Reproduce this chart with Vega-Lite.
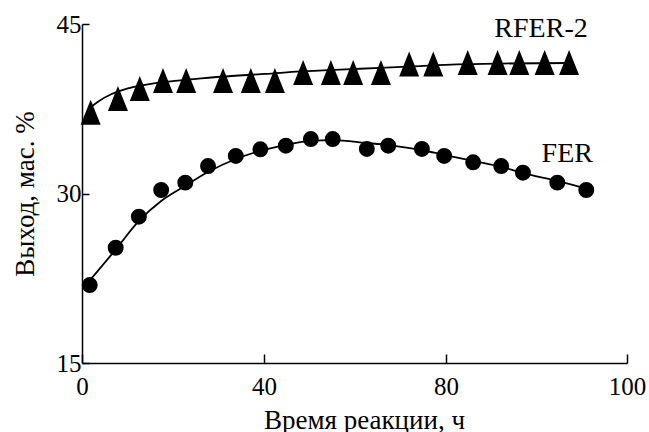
{
  "$schema": "https://vega.github.io/schema/vega-lite/v6.json",
  "width": 545,
  "height": 339,
  "autosize": {"type": "none"},
  "padding": {"left": 82, "top": 24, "right": 22, "bottom": 69},
  "background": "white",
  "config": {
    "view": {"stroke": null},
    "font": "Liberation Serif",
    "axis": {
      "grid": false,
      "domainColor": "black",
      "domainWidth": 1.5,
      "tickColor": "black",
      "tickWidth": 1.5,
      "labelFont": "Liberation Serif",
      "labelFontSize": 25,
      "labelColor": "black",
      "titleFont": "Liberation Serif",
      "titleFontSize": 27,
      "titleFontWeight": "normal",
      "titleColor": "black"
    }
  },
  "datasets": {
    "points": [
      {"series": "RFER-2", "t": 1.9, "y": 37.2},
      {"series": "RFER-2", "t": 7.9, "y": 38.4},
      {"series": "RFER-2", "t": 12.7, "y": 39.3},
      {"series": "RFER-2", "t": 17.8, "y": 40.0},
      {"series": "RFER-2", "t": 22.9, "y": 40.0},
      {"series": "RFER-2", "t": 31.0, "y": 40.0},
      {"series": "RFER-2", "t": 37.1, "y": 40.0},
      {"series": "RFER-2", "t": 42.4, "y": 40.0},
      {"series": "RFER-2", "t": 48.6, "y": 40.7},
      {"series": "RFER-2", "t": 54.7, "y": 40.7},
      {"series": "RFER-2", "t": 59.6, "y": 40.7},
      {"series": "RFER-2", "t": 65.7, "y": 40.7},
      {"series": "RFER-2", "t": 71.9, "y": 41.45},
      {"series": "RFER-2", "t": 77.2, "y": 41.45},
      {"series": "RFER-2", "t": 82.4, "y": 41.6},
      {"series": "RFER-2", "t": 85.7, "y": 41.6},
      {"series": "RFER-2", "t": 88.1, "y": 41.6},
      {"series": "RFER-2", "t": 90.9, "y": 41.6},
      {"series": "RFER-2", "t": 93.6, "y": 41.6},
      {"series": "FER", "t": 1.7, "y": 21.9},
      {"series": "FER", "t": 7.4, "y": 25.2},
      {"series": "FER", "t": 12.5, "y": 27.95},
      {"series": "FER", "t": 17.4, "y": 30.31},
      {"series": "FER", "t": 22.7, "y": 30.96},
      {"series": "FER", "t": 27.7, "y": 32.43},
      {"series": "FER", "t": 33.8, "y": 33.32},
      {"series": "FER", "t": 39.2, "y": 33.91},
      {"series": "FER", "t": 44.8, "y": 34.23},
      {"series": "FER", "t": 50.3, "y": 34.82},
      {"series": "FER", "t": 55.1, "y": 34.82},
      {"series": "FER", "t": 62.6, "y": 33.94},
      {"series": "FER", "t": 67.3, "y": 34.23},
      {"series": "FER", "t": 74.7, "y": 33.94},
      {"series": "FER", "t": 79.6, "y": 33.32},
      {"series": "FER", "t": 83.0, "y": 32.76},
      {"series": "FER", "t": 86.1, "y": 32.43},
      {"series": "FER", "t": 88.5, "y": 31.84},
      {"series": "FER", "t": 92.3, "y": 30.96},
      {"series": "FER", "t": 95.5, "y": 30.31}
    ],
    "curves": [
      {"series": "RFER-2", "t": 2.0, "y": 37.65},
      {"series": "RFER-2", "t": 3.5, "y": 38.12},
      {"series": "RFER-2", "t": 6.4, "y": 38.78},
      {"series": "RFER-2", "t": 10.1, "y": 39.31},
      {"series": "RFER-2", "t": 14.5, "y": 39.66},
      {"series": "RFER-2", "t": 20.4, "y": 39.96},
      {"series": "RFER-2", "t": 26.2, "y": 40.19},
      {"series": "RFER-2", "t": 33.6, "y": 40.42},
      {"series": "RFER-2", "t": 40.2, "y": 40.58},
      {"series": "RFER-2", "t": 47.9, "y": 40.8},
      {"series": "RFER-2", "t": 56.7, "y": 40.97},
      {"series": "RFER-2", "t": 65.5, "y": 41.11},
      {"series": "RFER-2", "t": 74.3, "y": 41.28},
      {"series": "RFER-2", "t": 81.2, "y": 41.42},
      {"series": "RFER-2", "t": 86.0, "y": 41.5},
      {"series": "RFER-2", "t": 93.7, "y": 41.55},
      {"series": "FER", "t": 1.8, "y": 22.35},
      {"series": "FER", "t": 7.5, "y": 25.09},
      {"series": "FER", "t": 12.5, "y": 27.57},
      {"series": "FER", "t": 17.4, "y": 29.34},
      {"series": "FER", "t": 22.6, "y": 30.66},
      {"series": "FER", "t": 27.7, "y": 31.9},
      {"series": "FER", "t": 33.8, "y": 33.05},
      {"series": "FER", "t": 39.1, "y": 33.76},
      {"series": "FER", "t": 44.8, "y": 34.29},
      {"series": "FER", "t": 50.1, "y": 34.65},
      {"series": "FER", "t": 55.2, "y": 34.73},
      {"series": "FER", "t": 62.6, "y": 34.47},
      {"series": "FER", "t": 67.3, "y": 34.29},
      {"series": "FER", "t": 74.7, "y": 33.85},
      {"series": "FER", "t": 79.6, "y": 33.41},
      {"series": "FER", "t": 83.0, "y": 32.88},
      {"series": "FER", "t": 86.1, "y": 32.35},
      {"series": "FER", "t": 88.5, "y": 31.81},
      {"series": "FER", "t": 92.3, "y": 31.11},
      {"series": "FER", "t": 95.6, "y": 30.4}
    ],
    "labels": [
      {"label": "RFER-2", "t": 90.5, "y": 43.88},
      {"label": "FER", "t": 93.4, "y": 32.81}
    ]
  },
  "encoding": {
    "x": {
      "field": "t",
      "type": "quantitative",
      "scale": {"domain": [0, 80, 100], "range": [0, 364, 545], "nice": false, "zero": false},
      "axis": {
        "values": [0, 40, 80, 100],
        "tickSize": -9,
        "labelPadding": 20,
        "title": "Время реакции, ч",
        "titleX": 282,
        "titleY": 65,
        "titleBaseline": "alphabetic",
        "labelFlush": false
      }
    },
    "y": {
      "field": "y",
      "type": "quantitative",
      "scale": {"domain": [15, 45], "nice": false, "zero": false},
      "axis": {
        "values": [15, 30, 45],
        "tickSize": -7,
        "labelPadding": 8,
        "title": "Выход, мас. %",
        "titleX": -49,
        "titleBaseline": "alphabetic",
        "labelFlush": false
      }
    }
  },
  "layer": [
    {
      "data": {"name": "curves"},
      "mark": {"type": "line", "interpolate": "monotone", "color": "black", "strokeWidth": 1.8},
      "encoding": {"detail": {"field": "series"}}
    },
    {
      "data": {"name": "points"},
      "mark": {"type": "point", "filled": true, "opacity": 1, "color": "black"},
      "encoding": {
        "shape": {
          "field": "series",
          "scale": {"domain": ["FER", "RFER-2"], "range": ["circle", "M0,-1.25L1,1.25L-1,1.25Z"]},
          "legend": null
        },
        "size": {
          "field": "series",
          "scale": {"domain": ["FER", "RFER-2"], "range": [254, 400]},
          "legend": null
        }
      }
    },
    {
      "data": {"name": "labels"},
      "mark": {"type": "text", "font": "Liberation Serif", "fontSize": 28, "color": "black", "align": "center", "baseline": "alphabetic"},
      "encoding": {"text": {"field": "label"}}
    }
  ]
}
